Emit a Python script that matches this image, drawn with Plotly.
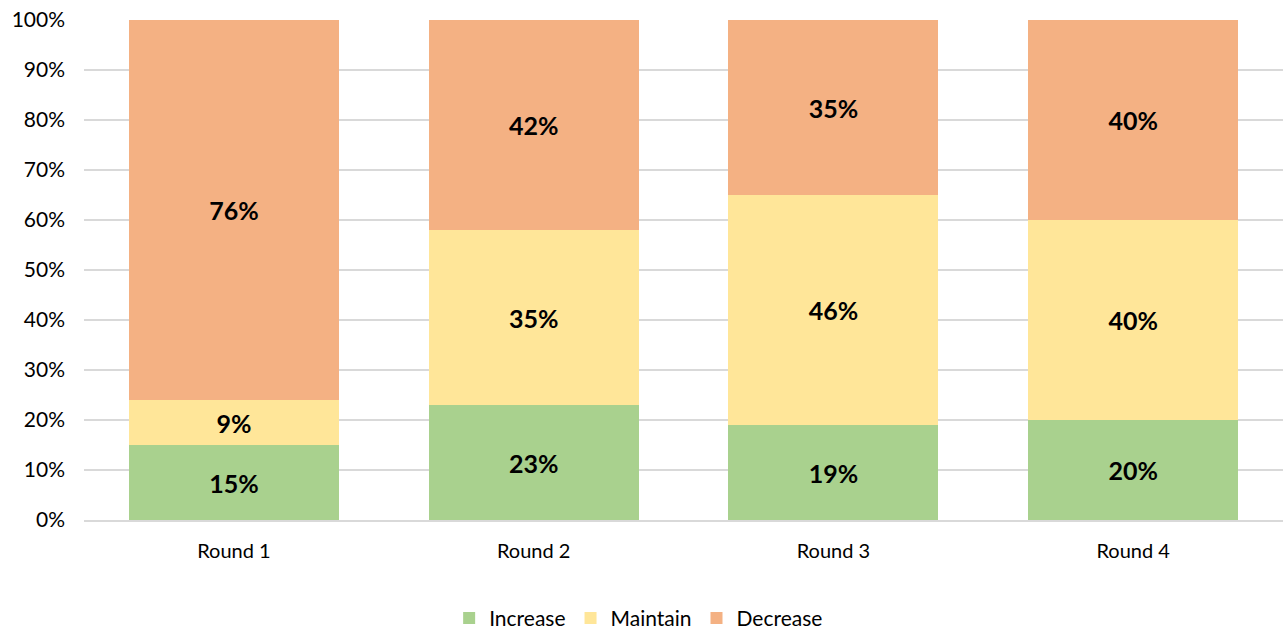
import plotly.graph_objects as go

rounds = ["Round 1", "Round 2", "Round 3", "Round 4"]
increase = [0.15, 0.23, 0.19, 0.20]
maintain = [0.09, 0.35, 0.46, 0.40]
decrease = [0.76, 0.42, 0.35, 0.40]

series = [
    ("Increase", increase, "#A9D18E"),
    ("Maintain", maintain, "#FFE699"),
    ("Decrease", decrease, "#F4B183"),
]

fig = go.Figure()
for name, vals, color in series:
    fig.add_trace(go.Bar(
        x=rounds, y=vals, name=name,
        marker=dict(color=color, line=dict(width=0)),
        text=[f"{round(v*100)}%" for v in vals],
        textposition="inside", insidetextanchor="middle",
        textfont=dict(family="Lato", size=25, color="black", weight="bold"),
        constraintext="none",
    ))

fig.update_layout(
    barmode="stack", bargap=0.3,
    width=1285, height=631,
    margin=dict(l=84, r=2, t=20, b=111, autoexpand=False),
    plot_bgcolor="white", paper_bgcolor="white",
    font=dict(family="Lato", size=20, color="black"),
    legend=dict(orientation="h", xref="container", x=0.497, xanchor="center",
                yref="container", y=0.02, yanchor="middle",
                font=dict(size=21), traceorder="normal", itemwidth=30),
    showlegend=True,
)
fig.update_yaxes(range=[0, 1], tickformat=".0%", dtick=0.1, showgrid=True,
                 gridcolor="#D9D9D9", gridwidth=1.5, zeroline=False,
                 showline=False, ticks="", ticklabelstandoff=18,
                 tickfont=dict(size=21))
fig.update_xaxes(showline=True, linecolor="#D9D9D9", linewidth=1.5, ticks="",
                 ticklabelstandoff=12)

fig.write_html("out.html")
